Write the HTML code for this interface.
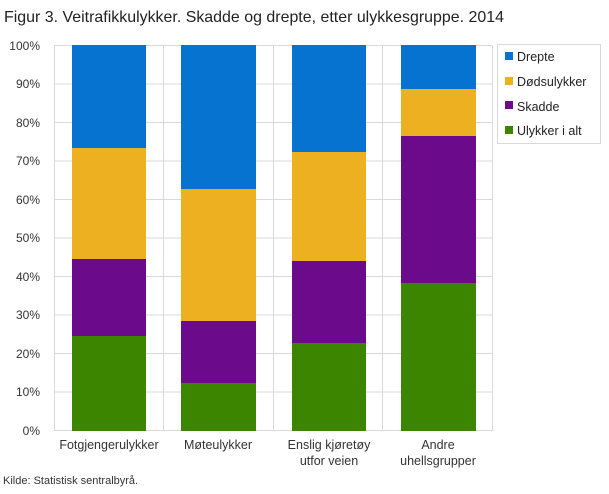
<!DOCTYPE html>
<html><head><meta charset="utf-8"><style>
body{margin:0;background:#fff;width:609px;height:489px;overflow:hidden;font-family:"Liberation Sans","DejaVu Sans",sans-serif}
</style></head><body>
<svg width="609" height="489" xmlns="http://www.w3.org/2000/svg" font-family="Liberation Sans, DejaVu Sans, sans-serif">
<text x="4" y="22" font-size="16" fill="#222" textLength="500" lengthAdjust="spacingAndGlyphs">Figur 3. Veitrafikkulykker. Skadde og drepte, etter ulykkesgruppe. 2014</text>
<g stroke="#d9d9d9" stroke-width="1">
<line x1="54" y1="45.5" x2="493" y2="45.5"/><line x1="54" y1="84" x2="493" y2="84"/><line x1="54" y1="122.5" x2="493" y2="122.5"/><line x1="54" y1="161" x2="493" y2="161"/><line x1="54" y1="199.5" x2="493" y2="199.5"/><line x1="54" y1="238" x2="493" y2="238"/><line x1="54" y1="276.5" x2="493" y2="276.5"/><line x1="54" y1="315" x2="493" y2="315"/><line x1="54" y1="353.5" x2="493" y2="353.5"/><line x1="54" y1="392" x2="493" y2="392"/><line x1="54" y1="430.5" x2="493" y2="430.5"/>
<line x1="54.5" y1="45" x2="54.5" y2="431"/><line x1="163.5" y1="45" x2="163.5" y2="431"/><line x1="273.5" y1="45" x2="273.5" y2="431"/><line x1="382.5" y1="45" x2="382.5" y2="431"/><line x1="492.5" y1="45" x2="492.5" y2="431"/>
</g>
<g font-size="12" fill="#333" text-anchor="end">
<text x="40" y="50">100%</text><text x="40" y="88">90%</text><text x="40" y="127">80%</text><text x="40" y="165">70%</text><text x="40" y="204">60%</text><text x="40" y="242">50%</text><text x="40" y="281">40%</text><text x="40" y="319">30%</text><text x="40" y="358">20%</text><text x="40" y="396">10%</text><text x="40" y="435">0%</text>
</g>
<g>
<rect x="72" y="45" width="74" height="103" fill="#0773d0"/><rect x="72" y="148" width="74" height="111" fill="#ecb021"/><rect x="72" y="259" width="74" height="77" fill="#6b0a8a"/><rect x="72" y="336" width="74" height="95" fill="#3b8500"/>
<rect x="181" y="45" width="75" height="144" fill="#0773d0"/><rect x="181" y="189" width="75" height="132" fill="#ecb021"/><rect x="181" y="321" width="75" height="62" fill="#6b0a8a"/><rect x="181" y="383" width="75" height="48" fill="#3b8500"/>
<rect x="292" y="45" width="74" height="107" fill="#0773d0"/><rect x="292" y="152" width="74" height="109" fill="#ecb021"/><rect x="292" y="261" width="74" height="82" fill="#6b0a8a"/><rect x="292" y="343" width="74" height="88" fill="#3b8500"/>
<rect x="401" y="45" width="75" height="44" fill="#0773d0"/><rect x="401" y="89" width="75" height="47" fill="#ecb021"/><rect x="401" y="136" width="75" height="147" fill="#6b0a8a"/><rect x="401" y="283" width="75" height="148" fill="#3b8500"/>
</g>
<g font-size="12.5" fill="#333" text-anchor="middle">
<text x="109" y="449">Fotgjengerulykker</text><text x="218" y="449">Møteulykker</text><text x="329" y="449">Enslig kjøretøy</text><text x="329" y="465">utfor veien</text><text x="438" y="449">Andre</text><text x="438" y="465">uhellsgrupper</text>
</g>
<rect x="497.5" y="44.5" width="103" height="99" fill="#fff" stroke="#d9d9d9"/>
<g font-size="12.5" fill="#222">
<rect x="505" y="52" width="8" height="8" fill="#0773d0"/><text x="517" y="61">Drepte</text>
<rect x="505" y="77" width="8" height="8" fill="#ecb021"/><text x="517" y="86">Dødsulykker</text>
<rect x="505" y="101" width="8" height="8" fill="#6b0a8a"/><text x="517" y="111">Skadde</text>
<rect x="505" y="126" width="8" height="8" fill="#3b8500"/><text x="517" y="135">Ulykker i alt</text>
</g>
<text x="3" y="484" font-size="11" fill="#333">Kilde: Statistisk sentralbyrå.</text>
</svg>
</body></html>
